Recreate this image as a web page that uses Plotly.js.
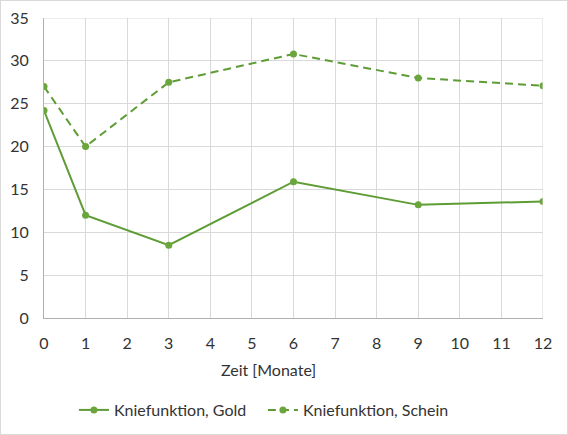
<!DOCTYPE html>
<html>
<head>
<meta charset="utf-8">
<script src="https://cdn.plot.ly/plotly-3.0.1.min.js"></script>
<style>
  html, body { margin: 0; padding: 0; background: #fff; }
  #chart { width: 568px; height: 435px; box-sizing: border-box; border: 1px solid #d9d9d9; }
</style>
</head>
<body>
<div id="chart"></div>
<script>
const months = [0, 1, 3, 6, 9, 12];
const gold = [24.2, 12.0, 8.5, 15.9, 13.2, 13.6];
const schein = [27.0, 20.0, 27.5, 30.8, 28.0, 27.1];
const seriesNames = ["Kniefunktion, Gold", "Kniefunktion, Schein"];
const xTicks = [0, 1, 2, 3, 4, 5, 6, 7, 8, 9, 10, 11, 12];
const yTicks = [0, 5, 10, 15, 20, 25, 30, 35];

const lineColor = "#5e9c35";
const markerColor = "#6aa63c";
const fontFam = "Lato, 'Open Sans', sans-serif";

const traces = [
  {
    x: months, y: gold, name: seriesNames[0], type: "scatter", mode: "lines+markers",
    line: { color: lineColor, width: 2 },
    marker: { color: markerColor, size: 7 }
  },
  {
    x: months, y: schein, name: seriesNames[1], type: "scatter", mode: "lines+markers",
    line: { color: lineColor, width: 2, dash: "8px,5px" },
    marker: { color: markerColor, size: 7 }
  }
];

const layout = {
  width: 566, height: 433,
  margin: { l: 43, r: 24, t: 17, b: 116, autoexpand: false },
  paper_bgcolor: "#fff", plot_bgcolor: "#fff",
  font: { family: fontFam, size: 16, color: "#333" },
  showlegend: true,
  legend: {
    orientation: "h", x: 0.06, xanchor: "left",
    yref: "container", y: 0.0554, yanchor: "middle",
    font: { family: fontFam, size: 16, color: "#333" },
    itemwidth: 30, traceorder: "normal",
    entrywidth: 144, entrywidthmode: "pixels"
  },
  xaxis: {
    range: [0, 12], tickvals: xTicks, ticktext: xTicks.map(String),
    showgrid: true, gridcolor: "#d9d9d9", gridwidth: 1,
    showline: true, linecolor: "#b0b0b0", linewidth: 1,
    zeroline: false, ticks: "", ticklen: 0, ticklabelstandoff: 11, automargin: false,
    tickfont: { family: fontFam, size: 16, color: "#333" },
    title: { text: "" }
  },
  yaxis: {
    range: [0, 35], tickvals: yTicks, ticktext: yTicks.map(String),
    showgrid: true, gridcolor: "#d9d9d9", gridwidth: 1,
    showline: true, linecolor: "#b0b0b0", linewidth: 1,
    zeroline: false, ticks: "", ticklabelstandoff: 11, automargin: false,
    tickfont: { family: fontFam, size: 16, color: "#333" }
  },
  shapes: [
    { type: "line", xref: "x", yref: "paper", x0: 12, x1: 12, y0: 0, y1: 1, line: { color: "#d9d9d9", width: 1 } },
    { type: "line", xref: "paper", yref: "y", x0: 0, x1: 1, y0: 35, y1: 35, line: { color: "#d9d9d9", width: 1 } }
  ],
  annotations: [
    { text: "Zeit [Monate]", xref: "paper", yref: "paper", x: 0.45, y: -0.17, xanchor: "center", yanchor: "middle",
      showarrow: false, font: { family: fontFam, size: 16, color: "#333" } }
  ]
};

Plotly.newPlot("chart", traces, layout, { displayModeBar: false, staticPlot: true });
</script>
</body>
</html>
